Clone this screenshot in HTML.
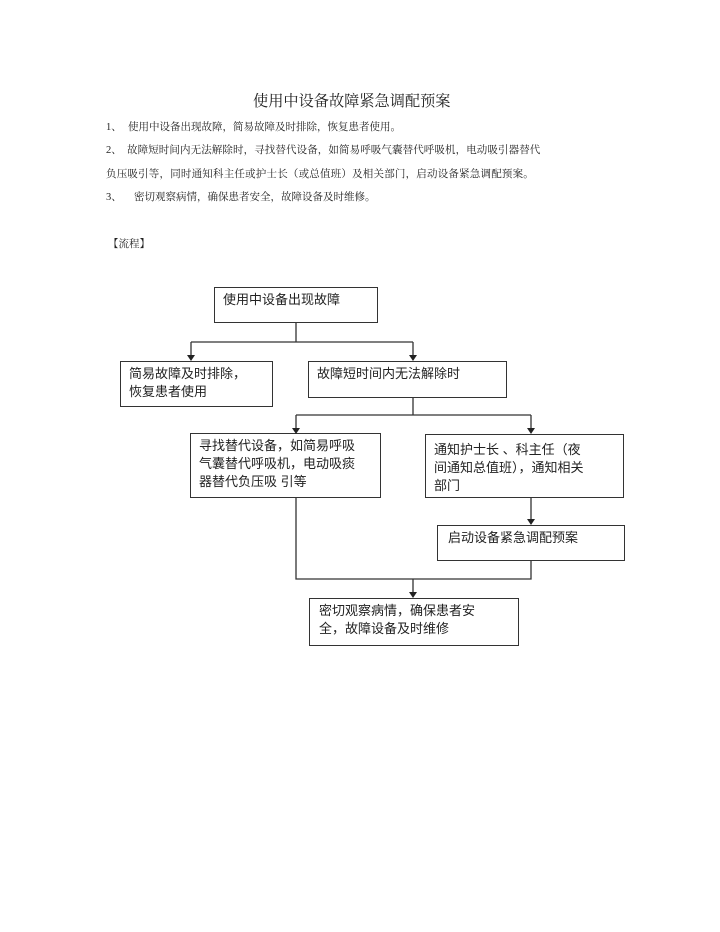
<!DOCTYPE html>
<html><head><meta charset="utf-8"><style>
body{margin:0;background:#fff;width:720px;height:932px;position:relative;overflow:hidden;font-family:"Liberation Serif","Noto Serif CJK SC","Noto Sans CJK SC",serif;color:#222}
.t{position:absolute;white-space:nowrap}
.p{font-size:10.5px}
.b{position:absolute;border:1.3px solid #333;box-sizing:border-box;font-family:"Liberation Sans","Noto Sans CJK SC",sans-serif;font-size:13px;line-height:18px;padding:3px 8px;color:#222}
</style></head><body>
<div class="t" style="left:253px;top:90px;font-size:15.2px">使用中设备故障紧急调配预案</div>
<div class="t p" style="left:106px;top:119px">1、</div>
<div class="t p" style="left:128px;top:119px">使用中设备出现故障，简易故障及时排除，恢复患者使用。</div>
<div class="t p" style="left:106px;top:142px">2、</div>
<div class="t p" style="left:127px;top:142px;letter-spacing:0.1px">故障短时间内无法解除时，寻找替代设备，如简易呼吸气囊替代呼吸机，电动吸引器替代</div>
<div class="t p" style="left:106px;top:166px;letter-spacing:0.2px">负压吸引等，同时通知科主任或护士长（或总值班）及相关部门，启动设备紧急调配预案。</div>
<div class="t p" style="left:106px;top:189px">3、</div>
<div class="t p" style="left:134px;top:189px">密切观察病情，确保患者安全，故障设备及时维修。</div>
<div class="t p" style="left:108px;top:236px">【流程】</div>

<div class="b" style="left:214px;top:287px;width:164px;height:36px">使用中设备出现故障</div>
<div class="b" style="left:120px;top:361px;width:153px;height:46px">简易故障及时排除，<br>恢复患者使用</div>
<div class="b" style="left:308px;top:361px;width:199px;height:37px">故障短时间内无法解除时</div>
<div class="b" style="left:190px;top:433px;width:191px;height:65px">寻找替代设备，如简易呼吸<br>气囊替代呼吸机，电动吸痰<br>器替代负压吸 引等</div>
<div class="b" style="left:425px;top:434px;width:199px;height:64px;padding-top:6px">通知护士长 、科主任（夜<br>间通知总值班），通知相关<br>部门</div>
<div class="b" style="left:437px;top:525px;width:188px;height:36px;padding-left:10px">启动设备紧急调配预案</div>
<div class="b" style="left:309px;top:598px;width:210px;height:48px;padding-left:9px">密切观察病情，确保患者安<br>全，故障设备及时维修</div>

<svg width="720" height="932" style="position:absolute;left:0;top:0" fill="none" stroke="#333" stroke-width="1.3">
<path d="M296 323V342M191 342H413M191 342V356M413 342V356"/>
<path d="M413 398V415M296 415H531M296 415V429M531 415V429"/>
<path d="M531 498V521"/>
<path d="M296 498V579H531V561M413 579V594"/>
<g fill="#222" stroke="none">
<path d="M187 355h8l-4 6z"/><path d="M409 355h8l-4 6z"/>
<path d="M292 428h8l-4 6z"/><path d="M527 428h8l-4 6z"/>
<path d="M527 519h8l-4 6z"/><path d="M409 592h8l-4 6z"/>
</g>
</svg>
</body></html>
